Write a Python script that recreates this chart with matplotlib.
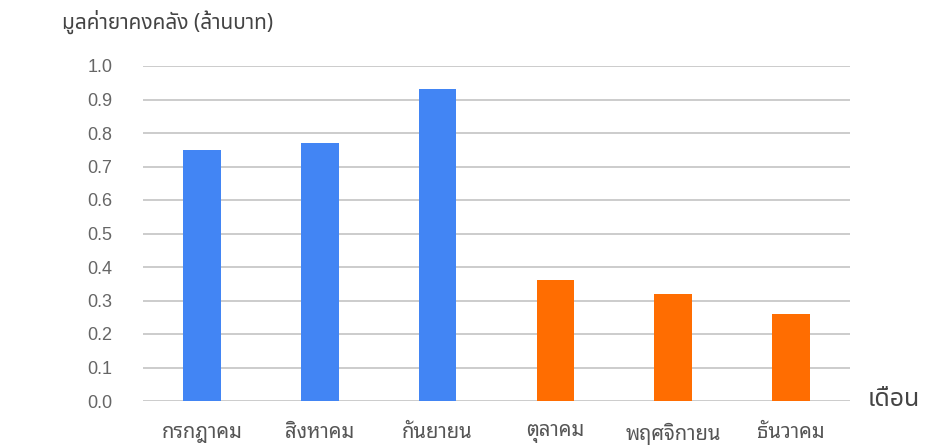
import matplotlib
matplotlib.use("Agg")
import matplotlib.pyplot as plt
from matplotlib import font_manager as fm

months = ["กรกฎาคม", "สิงหาคม", "กันยายน", "ตุลาคม", "พฤศจิกายน", "ธันวาคม"]
values = [0.75, 0.77, 0.93, 0.36, 0.32, 0.26]
bar_colors = ["#4285F4", "#4285F4", "#4285F4", "#FF6D01", "#FF6D01", "#FF6D01"]
yticks = [0.0, 0.1, 0.2, 0.3, 0.4, 0.5, 0.6, 0.7, 0.8, 0.9, 1.0]
title = "มูลค่ายาคงคลัง (ล้านบาท)"
xlabel = "เดือน"

avail = {f.name for f in fm.fontManager.ttflist}
def pick(cands):
    out = [c for c in cands if c in avail]
    return out + ["DejaVu Sans"]

loopless = pick(["Noto Sans Thai", "IBM Plex Sans Thai", "Sarabun"])
looped = pick(["Noto Sans Thai Looped", "Sarabun", "Niramit"])
numfont = pick(["Liberation Sans", "Arimo"])

fig = plt.figure(figsize=(9.25, 4.47), dpi=100)
ax = fig.add_axes([143/925, 1-401/447, (850-143)/925, (401-66)/447])
x = list(range(len(months)))
ax.bar(x, values, width=0.32, color=bar_colors, zorder=3)
ax.set_xlim(-0.5, len(months)-0.5)
ax.set_ylim(0, 1.0)
ax.set_yticks(yticks)
ax.set_yticklabels([f"{v:.1f}" for v in yticks], family=numfont, fontsize=13, color="#666666")
ax.set_xticks(x)
ax.set_xticklabels(months, family=looped, fontsize=14.5, color="#555555")
ax.tick_params(axis="y", length=0, pad=22)
ax.tick_params(axis="x", length=0, pad=16)
ax.grid(axis="y", color="#cccccc", linewidth=1.4, zorder=0)
for s in ax.spines.values():
    s.set_visible(False)
ax.set_axisbelow(True)
fig.text(62/925, 1-22/447, title, family=loopless, fontsize=15, color="#444444", va="center", ha="left")
fig.text(868/925, 1-400/447, xlabel, family=loopless, fontsize=18, color="#444444", va="center", ha="left")
fig.savefig("out.png")
